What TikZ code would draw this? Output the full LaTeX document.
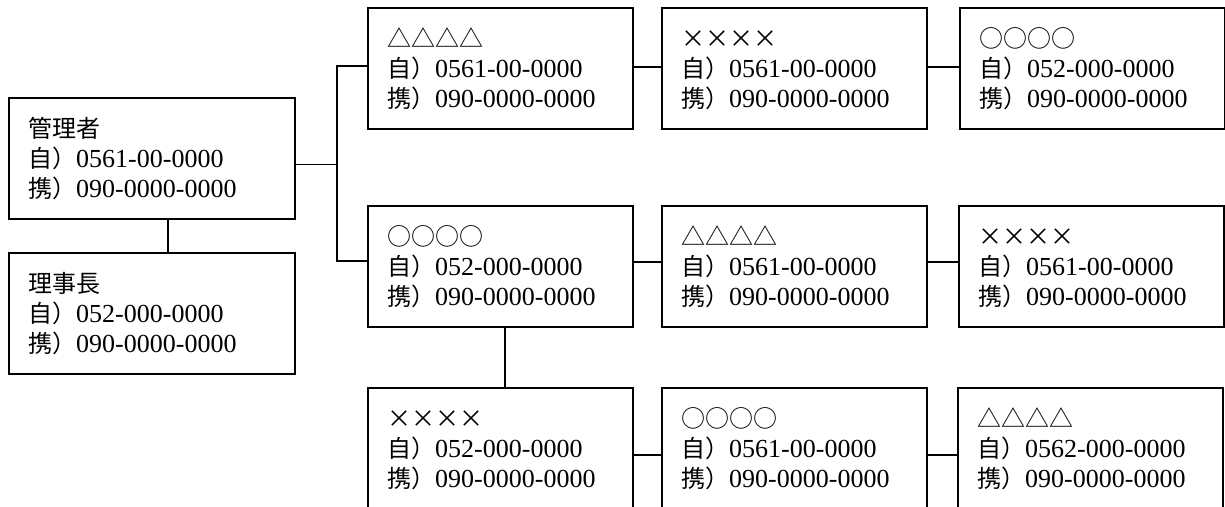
\documentclass[tikz,border=0pt]{standalone}
\usepackage{fontspec}
\setmainfont{Liberation Serif}
\newfontfamily\jpfont{Noto Sans CJK JP}
\usetikzlibrary{calc}
\newcommand\K[1]{{\jpfont\fontsize{24}{30}\selectfont #1}}
\newcommand\card[7]{%
  \node[box, minimum width=#4pt] (#1) at (#2,#3) {};
  \node[txt] (#1a) at ($(#1.north west)+(20,40)$) {#5};
  \node[txt] (#1b) at ($(#1.north west)+(20,70)$) {#6};
  \node[txt] (#1c) at ($(#1.north west)+(20,100)$) {#7};
}
\tikzset{
  box/.style={draw, line width=1.8pt, anchor=north west, minimum height=121pt, inner sep=0pt},
  txt/.style={anchor=base west, inner sep=0pt, font=\fontsize{26}{30}\selectfont},
  conn/.style={line width=1.8pt}
}
\begin{document}
\begin{tikzpicture}[x=1pt,y=-1pt]
\useasboundingbox (0,0) rectangle (1225,506);
\clip (0,0) rectangle (1225,506);
\fill[white] (0,0) rectangle (1225,506);
% left column
\card{m}{8}{97}{286}{\K{管理者}}{\K{自）}0561-00-0000}{\K{携）}090-0000-0000}
\card{r}{8}{252}{286}{\K{理事長}}{\K{自）}052-000-0000}{\K{携）}090-0000-0000}
% top row
\card{t1}{367}{7}{265}{\K{△△△△}}{\K{自）}0561-00-0000}{\K{携）}090-0000-0000}
\card{t2}{661}{7}{265}{\K{××××}}{\K{自）}0561-00-0000}{\K{携）}090-0000-0000}
\card{t3}{959}{7}{265}{\K{○○○○}}{\K{自）}052-000-0000}{\K{携）}090-0000-0000}
% middle row
\card{n1}{367}{205}{265}{\K{○○○○}}{\K{自）}052-000-0000}{\K{携）}090-0000-0000}
\card{n2}{661}{205}{265}{\K{△△△△}}{\K{自）}0561-00-0000}{\K{携）}090-0000-0000}
\card{n3}{958}{205}{265}{\K{××××}}{\K{自）}0561-00-0000}{\K{携）}090-0000-0000}
% bottom row
\card{b1}{367}{387}{265}{\K{××××}}{\K{自）}052-000-0000}{\K{携）}090-0000-0000}
\card{b2}{661}{387}{265}{\K{○○○○}}{\K{自）}0561-00-0000}{\K{携）}090-0000-0000}
\card{b3}{957}{387}{265}{\K{△△△△}}{\K{自）}0562-000-0000}{\K{携）}090-0000-0000}
% connectors
\coordinate (ja) at (337,66);
\coordinate (jb) at (337,261);
\draw[conn] (ja -| t1.west) -- (ja) -- (jb) -- (jb -| n1.west);
\draw[conn] ([yshift=-6pt]m.east) -- ([yshift=-6pt]m.east -| ja);
\draw[conn] ([xshift=16pt]m.south) -- ([xshift=16pt]r.north);
\draw[conn] ([xshift=4.5pt]n1.south) -- ([xshift=4.5pt]b1.north);
\draw[conn] ([yshift=1.5pt]t1.east) -- ([yshift=1.5pt]t2.west);
\draw[conn] ([yshift=1.5pt]t2.east) -- ([yshift=1.5pt]t3.west);
\draw[conn] ([yshift=4.5pt]n1.east) -- ([yshift=4.5pt]n2.west);
\draw[conn] ([yshift=4.5pt]n2.east) -- ([yshift=4.5pt]n3.west);
\draw[conn] ([yshift=-6.5pt]b1.east) -- ([yshift=-6.5pt]b2.west);
\draw[conn] ([yshift=-6.5pt]b2.east) -- ([yshift=-6.5pt]b3.west);
\end{tikzpicture}
\end{document}
